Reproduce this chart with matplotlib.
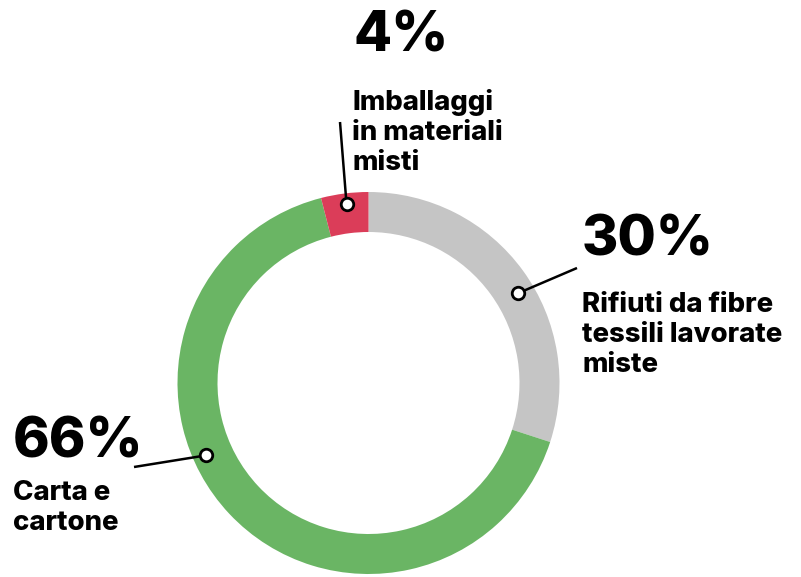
import numpy as np
import matplotlib
matplotlib.use('Agg')
import matplotlib.pyplot as plt

plt.rcParams['font.family'] = ['Inter', 'DejaVu Sans']

W, H = 801, 577

# slices, clockwise from 12 o'clock
labels = ["Rifiuti da fibre\ntessili lavorate\nmiste", "Carta e\ncartone", "Imballaggi\nin materiali\nmisti"]
values = [30, 66, 4]
colors = ["#c5c5c5", "#6ab564", "#db3d59"]

# annotation anchors on the ring: angle clockwise from top (deg), radius (px)
dot_angle = [59, 246, -7]
dot_radius = [174, 178, 180]
# end of leader line (px, image coords)
line_end = [(577, 268), (134, 467), (340, 122)]
# text anchor (left, baseline of percentage) and first label line baseline
pct_pos = [(582, 255), (13, 458), (353, 52)]
lab_pos = [(582, 308), (13, 498), (352, 106)]
line_gap = 32

cx, cy = 368.5, 383
R, ring = 191, 40

fig = plt.figure(figsize=(W / 100, H / 100), dpi=100)
ax = fig.add_axes([0, 0, 1, 1])

ax.pie(values, colors=colors, startangle=90, counterclock=False,
       radius=R, center=(cx, H - cy),
       wedgeprops=dict(width=ring, linewidth=0))

for i in range(len(values)):
    a = np.deg2rad(dot_angle[i])
    dx = cx + dot_radius[i] * np.sin(a)
    dy = H - (cy - dot_radius[i] * np.cos(a))
    ex, ey = line_end[i]
    ax.plot([dx, ex], [dy, H - ey], color='black', lw=1.8, solid_capstyle='butt', zorder=3)
    ax.plot(dx, dy, 'o', ms=9, mfc='white', mec='black', mew=2, zorder=4)
    px, py = pct_pos[i]
    ax.text(px, H - py, f"{values[i]}%", fontsize=40, fontweight='heavy',
            ha='left', va='baseline', color='black')
    lx, ly = lab_pos[i]
    # baseline alignment of multi-line text uses the last line
    last = ly + (labels[i].count('\n')) * line_gap
    ax.text(lx, H - last, labels[i], fontsize=19.8, fontweight='heavy',
            ha='left', va='baseline', color='black', linespacing=1.2)

ax.set_xlim(0, W)
ax.set_ylim(0, H)
ax.set_aspect('auto')
ax.axis('off')

fig.savefig('out.png', dpi=100)
